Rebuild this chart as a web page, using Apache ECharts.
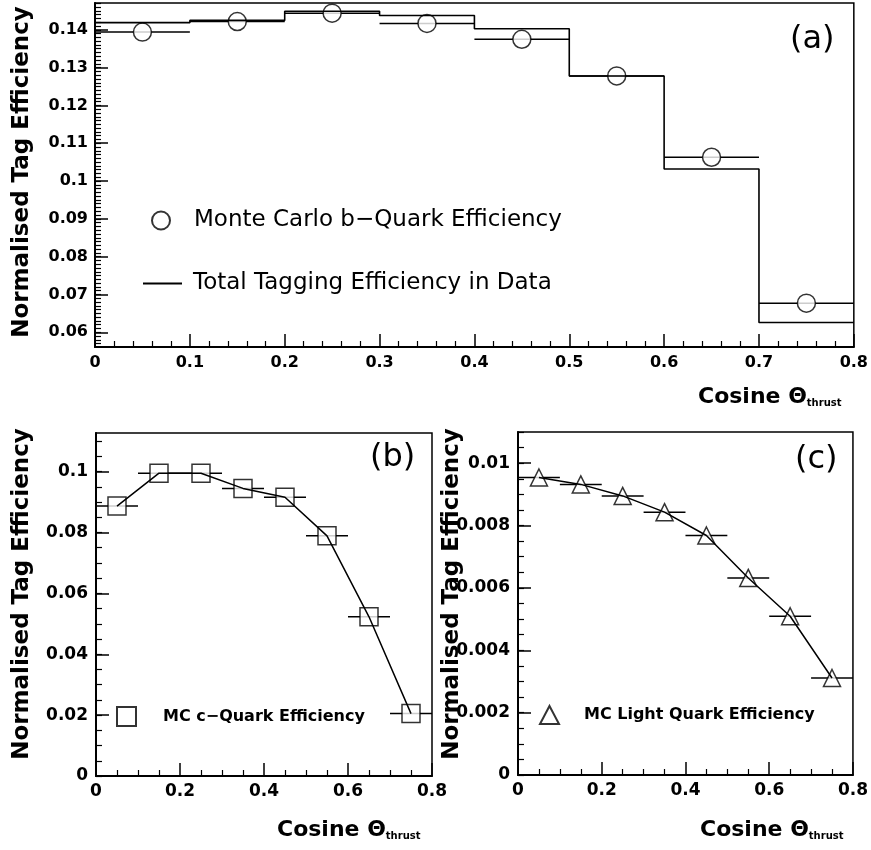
<!DOCTYPE html>
<html>
<head>
<meta charset="utf-8">
<script src="https://cdn.jsdelivr.net/npm/echarts@6/dist/echarts.min.js"></script>
<style>html,body{margin:0;padding:0;background:#fff;}#main{width:871px;height:850px;}</style>
</head>
<body>
<div id="main"></div>
<script>
// ---- data ----
const binCenters = [0.05, 0.15, 0.25, 0.35, 0.45, 0.55, 0.65, 0.75];
const binEdges = [0, 0.1, 0.2, 0.3, 0.4, 0.5, 0.6, 0.7, 0.8];
const binHalfWidth = 0.05;
const bQuarkEff = [0.1394, 0.1422, 0.1444, 0.1417, 0.1375, 0.1278, 0.1063, 0.0677];
const dataTotalEff = [0.1419, 0.1425, 0.1449, 0.1438, 0.1403, 0.1278, 0.1032, 0.0626];
const cQuarkEff = [0.0887, 0.0995, 0.0995, 0.0945, 0.0916, 0.0789, 0.0523, 0.0205];
const lightQuarkEff = [0.00954, 0.00932, 0.00895, 0.00843, 0.00768, 0.00632, 0.00509, 0.00311];
const aYTicks = [0.06, 0.07, 0.08, 0.09, 0.1, 0.11, 0.12, 0.13, 0.14];
const bYTicks = [0, 0.02, 0.04, 0.06, 0.08, 0.1];
const cYTicks = [0, 0.002, 0.004, 0.006, 0.008, 0.01];

const nameB = 'Monte Carlo b\u2212Quark Efficiency';
const nameD = 'Total Tagging Efficiency in Data';
const nameC = 'MC c\u2212Quark Efficiency';
const nameL = 'MC Light Quark Efficiency';

function minorTicks(from, to, step) {
  const out = [];
  const n = Math.round((to - from) / step);
  for (let i = 0; i <= n; i++) out.push(+(from + i * step).toFixed(6));
  return out;
}

const FONT = 'DejaVu Sans';
const pairs = (xs, ys) => xs.map((x, i) => [x, ys[i]]);
const stepData = binEdges.map((e, i) => [e, dataTotalEff[Math.min(i, dataTotalEff.length - 1)]]);

function errBar(params, api) {
  const x = api.value(0), y = api.value(1);
  const p1 = api.coord([x - binHalfWidth, y]);
  const p2 = api.coord([x + binHalfWidth, y]);
  return { type: 'line', shape: { x1: p1[0], y1: p1[1], x2: p2[0], y2: p2[1] },
           style: { stroke: '#000', lineWidth: 1.5 } };
}

const axisLine = { show: true, lineStyle: { color: '#000', width: 2 } };
const tickLabel = (size) => ({ color: '#000', fontFamily: FONT, fontWeight: 'bold', fontSize: size });

function xAxis(gridIndex, interval, minorSplit, size, margin) {
  return {
    type: 'value', gridIndex, min: 0, max: 0.8, interval,
    axisLine, splitLine: { show: false },
    axisTick: { inside: true, length: 13, lineStyle: { color: '#000', width: 1.5 } },
    minorTick: { show: true, splitNumber: minorSplit, length: 6, lineStyle: { color: '#000', width: 1.2 } },
    axisLabel: Object.assign(tickLabel(size), { margin, showMaxLabel: true, showMinLabel: true })
  };
}
function yMajor(gridIndex, min, max, ticks, size, margin) {
  return {
    type: 'value', gridIndex, min, max, position: 'left',
    axisLine, splitLine: { show: false },
    axisTick: { inside: true, length: 13, customValues: ticks, lineStyle: { color: '#000', width: 1.5 } },
    axisLabel: Object.assign(tickLabel(size), { margin, customValues: ticks })
  };
}
function yMinor(gridIndex, min, max, ticks) {
  return {
    type: 'value', gridIndex, min, max, position: 'left',
    axisLine: { show: false }, splitLine: { show: false },
    axisTick: { inside: true, length: 6, customValues: ticks, lineStyle: { color: '#000', width: 1.2 } },
    axisLabel: { show: false }
  };
}

const chart = echarts.init(document.getElementById('main'), null, { renderer: 'canvas' });

const titleStyle = { fill: '#000', font: 'bold 23px "DejaVu Sans"', textAlign: 'center', textVerticalAlign: 'middle' };
function yTitle(x, y) {
  return { type: 'text', x, y, rotation: Math.PI / 2, style: Object.assign({ text: 'Normalised Tag Efficiency' }, titleStyle) };
}
function xTitle(x, y) {
  return { type: 'text', x, y, style: {
    text: '{a|Cosine \u0398}{b|thrust}', fill: '#000', textVerticalAlign: 'middle',
    rich: { a: { fontFamily: FONT, fontWeight: 'bold', fontSize: 22, color: '#000' },
            b: { fontFamily: FONT, fontWeight: 'bold', fontSize: 10, color: '#000', padding: [12, 0, 0, 0] } } } };
}
function panelLabel(text, x, y) {
  return { type: 'text', x, y, style: { text, fill: '#000', font: '32px "DejaVu Sans"', textVerticalAlign: 'middle' } };
}

const mk = { color: '#fff', borderColor: '#000', borderWidth: 1.5 };
const legMk = { color: '#fff', borderColor: '#000', borderWidth: 2 };

chart.setOption({
  animation: false,
  backgroundColor: '#fff',
  grid: [
    { left: 95, top: 3, width: 759, height: 344, show: true, borderColor: '#000', borderWidth: 1.5, backgroundColor: 'transparent' },
    { left: 96, top: 433, width: 336, height: 343, show: true, borderColor: '#000', borderWidth: 1.5, backgroundColor: 'transparent' },
    { left: 518, top: 432, width: 337, height: 343, show: true, borderColor: '#000', borderWidth: 1.5, backgroundColor: 'transparent' }
  ],
  xAxis: [xAxis(0, 0.1, 5, 16, 8), xAxis(1, 0.2, 4, 17, 7), xAxis(2, 0.2, 4, 17, 7)],
  yAxis: [
    yMajor(0, 0.0561, 0.1471, aYTicks, 16, 7), yMinor(0, 0.0561, 0.1471, minorTicks(0.057, 0.147, 0.001)),
    yMajor(1, 0, 0.1127, bYTicks, 17, 8), yMinor(1, 0, 0.1127, minorTicks(0, 0.11, 0.005)),
    yMajor(2, 0, 0.011, cYTicks, 17, 8), yMinor(2, 0, 0.011, minorTicks(0, 0.011, 0.0005))
  ],
  legend: [
    { data: [{ name: nameB, icon: 'circle', itemStyle: legMk }], left: 151, top: 209, itemWidth: 18, itemHeight: 18, padding: 0,
      textStyle: { fontFamily: FONT, fontSize: 23, color: '#000', padding: [0, 0, 0, 19] } },
    { data: [{ name: nameD, icon: 'rect', itemStyle: { color: '#000', borderWidth: 0 } }], left: 143, top: 272, itemWidth: 39, itemHeight: 2, padding: 0,
      textStyle: { fontFamily: FONT, fontSize: 23, color: '#000', padding: [0, 0, 0, 6] } },
    { data: [{ name: nameC, icon: 'rect', itemStyle: legMk }], left: 116, top: 706, itemWidth: 19, itemHeight: 19, padding: 0,
      textStyle: { fontFamily: FONT, fontSize: 16, fontWeight: 'bold', color: '#000', padding: [0, 0, 0, 22] } },
    { data: [{ name: nameL, icon: 'triangle', itemStyle: legMk }], left: 539, top: 705, itemWidth: 19, itemHeight: 18, padding: 0,
      textStyle: { fontFamily: FONT, fontSize: 16, fontWeight: 'bold', color: '#000', padding: [0, 0, 0, 20] } }
  ],
  series: [
    { type: 'line', name: nameD, xAxisIndex: 0, yAxisIndex: 0, step: 'end', data: stepData,
      showSymbol: false, symbol: 'none', lineStyle: { color: '#000', width: 1.6 }, itemStyle: { color: '#000' } },
    { type: 'custom', name: 'bErr', xAxisIndex: 0, yAxisIndex: 0, data: pairs(binCenters, bQuarkEff), renderItem: errBar },
    { type: 'scatter', name: nameB, xAxisIndex: 0, yAxisIndex: 0, data: pairs(binCenters, bQuarkEff),
      symbol: 'circle', symbolSize: 18, itemStyle: mk },

    { type: 'custom', name: 'cErr', xAxisIndex: 1, yAxisIndex: 2, data: pairs(binCenters, cQuarkEff), renderItem: errBar },
    { type: 'scatter', name: nameC, xAxisIndex: 1, yAxisIndex: 2, data: pairs(binCenters, cQuarkEff),
      symbol: 'rect', symbolSize: 18, itemStyle: mk },
    { type: 'line', name: 'cLine', xAxisIndex: 1, yAxisIndex: 2, data: pairs(binCenters, cQuarkEff),
      showSymbol: false, symbol: 'none', lineStyle: { color: '#000', width: 1.5 } },

    { type: 'custom', name: 'lErr', xAxisIndex: 2, yAxisIndex: 4, data: pairs(binCenters, lightQuarkEff), renderItem: errBar },
    { type: 'scatter', name: nameL, xAxisIndex: 2, yAxisIndex: 4, data: pairs(binCenters, lightQuarkEff),
      symbol: 'triangle', symbolSize: 17, itemStyle: mk },
    { type: 'line', name: 'lLine', xAxisIndex: 2, yAxisIndex: 4, data: pairs(binCenters, lightQuarkEff),
      showSymbol: false, symbol: 'none', lineStyle: { color: '#000', width: 1.5 } }
  ],
  graphic: [
    yTitle(22, 172), yTitle(22, 594), yTitle(452, 594),
    xTitle(698, 397), xTitle(277, 830), xTitle(700, 830),
    panelLabel('(a)', 790, 40), panelLabel('(b)', 370, 458), panelLabel('(c)', 795, 460)
  ]
});
</script>
</body>
</html>
